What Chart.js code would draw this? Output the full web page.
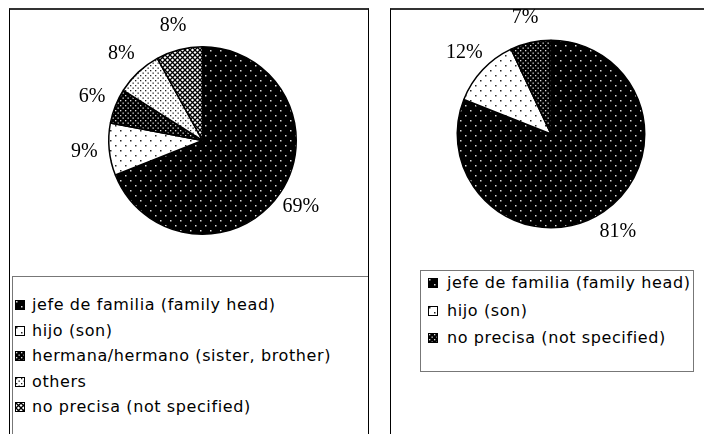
<!DOCTYPE html>
<html>
<head>
<meta charset="utf-8">
<script src="https://cdn.jsdelivr.net/npm/chart.js@4/dist/chart.umd.min.js"></script>
<style>
  body { margin: 0; background: #fff; width: 704px; height: 434px; overflow: hidden; position: relative; }
  .box { position: absolute; box-sizing: border-box; border-left: 1px solid #000; border-top: 2px solid #333; border-right: 1.5px solid #000; }
  .legend { position: absolute; box-sizing: border-box; border: 1px solid #777; background: #fff; overflow: hidden;
            font-family: "DejaVu Sans", sans-serif; font-size: 16px; letter-spacing: 0.6px; color: #000; }
  .item { position: absolute; white-space: nowrap; height: 20px; line-height: 20px; }
  .sw { position: absolute; top: 5px; width: 10px; height: 10px; box-sizing: border-box; border: 1px solid #000; }
  canvas { position: absolute; }
</style>
</head>
<body>
<div class="box" style="left:9px;top:8px;width:360px;height:440px;"></div>
<div class="box" style="left:390px;top:8px;width:330px;height:440px;"></div>
<canvas id="pieA" width="370" height="270" style="left:0;top:0;"></canvas>
<canvas id="pieB" width="334" height="270" style="left:370px;top:0;"></canvas>
<div class="legend" id="legA" style="left:12px;top:276px;width:356px;height:170px;border-right:none;border-bottom:none;"></div>
<div class="legend" id="legB" style="left:420px;top:270px;width:274px;height:102px;"></div>
<script>
// data
const labelsA = ['jefe de familia (family head)', 'hijo (son)', 'hermana/hermano (sister, brother)', 'others', 'no precisa (not specified)'];
const valuesA = [69, 9, 6, 8, 8];
const labelsB = ['jefe de familia (family head)', 'hijo (son)', 'no precisa (not specified)'];
const valuesB = [81, 12, 7];

// fill patterns per slice
const fillsA = ['darkSparse', 'lightSparse', 'darkDense', 'lightDense', 'hatch'];
const fillsB = ['darkSparse', 'lightSparse', 'darkDense'];

function makeTile(kind) {
  const c = document.createElement('canvas');
  const dense = kind.indexOf('Dense') >= 0;
  const s = kind === 'hatch' ? 5 : (dense ? 5 : 10);
  c.width = s; c.height = s;
  const g = c.getContext('2d');
  if (kind === 'hatch') {
    g.fillStyle = '#fff'; g.fillRect(0, 0, s, s);
    g.strokeStyle = '#000'; g.lineWidth = 1.3;
    g.beginPath();
    g.moveTo(-1, -1); g.lineTo(s + 1, s + 1);
    g.moveTo(s + 1, -1); g.lineTo(-1, s + 1);
    g.stroke();
    return c;
  }
  const dark = kind.indexOf('dark') === 0;
  g.fillStyle = dark ? '#000' : '#fff'; g.fillRect(0, 0, s, s);
  g.fillStyle = dark ? '#ddd' : '#222';
  const d = dense ? 1.3 : 1.5;
  g.fillRect(0, 0, d, d);
  g.fillRect(s / 2, s / 2, d, d);
  return c;
}
const tiles = {};
['darkSparse', 'lightSparse', 'darkDense', 'lightDense', 'hatch'].forEach(k => tiles[k] = makeTile(k));

const pctLabels = {
  id: 'pctLabels',
  afterDatasetsDraw(chart) {
    const ctx = chart.ctx;
    const data = chart.data.datasets[0].data;
    const total = data.reduce((a, b) => a + b, 0);
    ctx.save();
    ctx.font = '20px "Liberation Serif", serif';
    ctx.fillStyle = '#000';
    ctx.textAlign = 'center';
    ctx.textBaseline = 'middle';
    chart.getDatasetMeta(0).data.forEach((arc, i) => {
      const p = arc.getProps(['x', 'y', 'startAngle', 'endAngle', 'outerRadius'], true);
      const a = (p.startAngle + p.endAngle) / 2;
      const r = p.outerRadius + 25;
      ctx.fillText(Math.round(data[i] / total * 100) + '%', p.x + Math.cos(a) * r, p.y + Math.sin(a) * r);
    });
    ctx.restore();
  }
};

function drawPie(id, labels, values, fills, padding) {
  const ctx = document.getElementById(id).getContext('2d');
  new Chart(ctx, {
    type: 'pie',
    data: {
      labels: labels,
      datasets: [{
        data: values,
        backgroundColor: fills.map(k => ctx.createPattern(tiles[k], 'repeat')),
        borderColor: '#000',
        borderWidth: 1.5
      }]
    },
    options: {
      responsive: false,
      animation: false,
      layout: { padding: padding },
      plugins: { legend: { display: false }, tooltip: { enabled: false } }
    },
    plugins: [pctLabels]
  });
}

function drawLegend(id, labels, fills, firstTop, step, swX, textX) {
  const box = document.getElementById(id);
  labels.forEach((lab, i) => {
    const it = document.createElement('div');
    it.className = 'item';
    it.style.top = (firstTop + i * step) + 'px';
    it.style.left = '0px';
    const sw = document.createElement('span');
    sw.className = 'sw';
    sw.style.left = swX + 'px';
    sw.style.backgroundImage = 'url(' + tiles[fills[i]].toDataURL() + ')';
    const tx = document.createElement('span');
    tx.style.position = 'absolute';
    tx.style.left = textX + 'px';
    tx.textContent = lab;
    it.appendChild(sw); it.appendChild(tx);
    box.appendChild(it);
  });
}

drawPie('pieA', labelsA, valuesA, fillsA, { left: 108, top: 46, right: 73, bottom: 35 });
drawPie('pieB', labelsB, valuesB, fillsB, { left: 86.5, top: 39.5, right: 58.5, bottom: 41.5 });
drawLegend('legA', labelsA, fillsA, 18, 25.5, 2, 19);
drawLegend('legB', labelsB, fillsB, 2, 27.5, 7, 26);
</script>
</body>
</html>
